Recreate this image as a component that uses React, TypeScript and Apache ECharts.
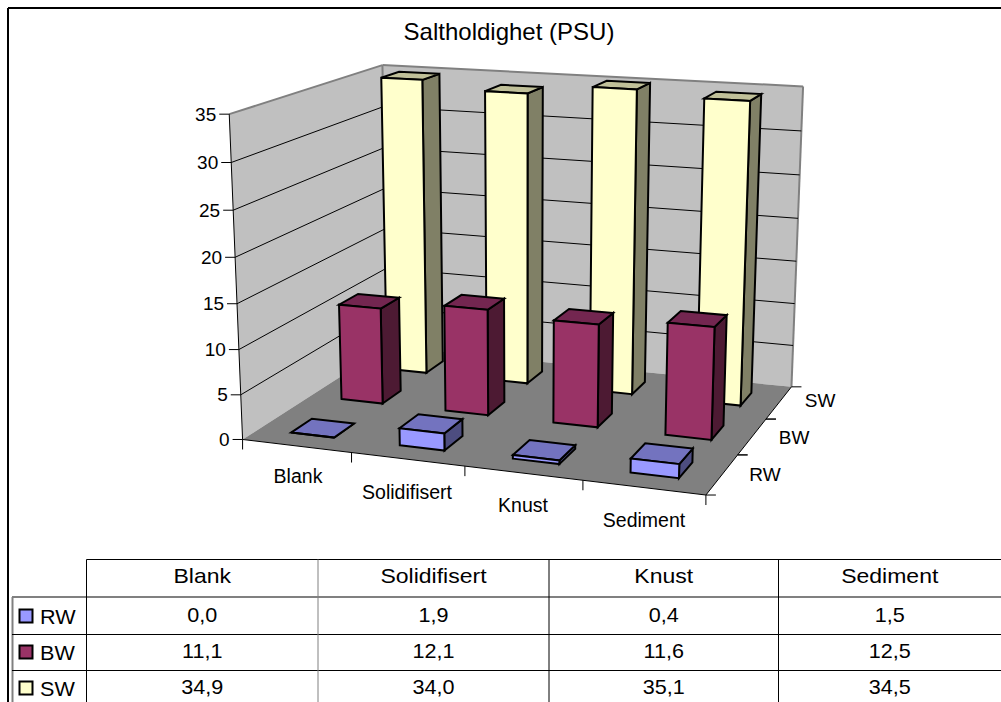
import React, { useEffect, useRef } from "react";
import * as echarts from "echarts";

const titleText = "Saltholdighet (PSU)";
const categories = ["Blank", "Solidifisert", "Knust", "Sediment"];
const seriesNames = ["RW", "BW", "SW"];
const RW = [0.0, 1.9, 0.4, 1.5];
const BW = [11.1, 12.1, 11.6, 12.5];
const SW = [34.9, 34.0, 35.1, 34.5];
const yTicks = [0, 5, 10, 15, 20, 25, 30, 35];
const FONT = '"Liberation Sans", Arial, sans-serif';

const palette = [
  { front: "#9999FF", top: "#7373BF", side: "#4D4D80" },
  { front: "#993366", top: "#732650", side: "#4D1A33" },
  { front: "#FFFFCC", top: "#C0C099", side: "#808066" },
];

// camera calibration of the 3D box: [x, y, z] -> [px, py]
const calib: [number, number, number, number, number][] = [
  [0, 0, 0, 243, 439],
  [1, 0, 0, 705.7, 495.7],
  [1, 0, 1, 791.7, 386],
  [0, 0, 1, 387.5, 347],
  [0, 1, 0, 229, 114],
  [1, 1, 1, 803, 86.7],
  [0, 1, 1, 382.7, 65],
];

function solveCamera() {
  const n = 11;
  const M: number[][] = Array.from({ length: n }, () => new Array(n + 1).fill(0));
  const add = (r: number[], t: number) => {
    for (let i = 0; i < n; i++) {
      for (let j = 0; j < n; j++) M[i][j] += r[i] * r[j];
      M[i][n] += r[i] * t;
    }
  };
  for (const [X, Y, Z, u, v] of calib) {
    add([X, Y, Z, 1, 0, 0, 0, 0, -u * X, -u * Y, -u * Z], u);
    add([0, 0, 0, 0, X, Y, Z, 1, -v * X, -v * Y, -v * Z], v);
  }
  for (let i = 0; i < n; i++) {
    let p = i;
    for (let r = i + 1; r < n; r++) if (Math.abs(M[r][i]) > Math.abs(M[p][i])) p = r;
    [M[i], M[p]] = [M[p], M[i]];
    for (let r = 0; r < n; r++) {
      if (r === i) continue;
      const f = M[r][i] / M[i][i];
      for (let c = i; c <= n; c++) M[r][c] -= f * M[i][c];
    }
  }
  return M.map((row, i) => row[n] / row[i]);
}
const cam = solveCamera();
const project = (x: number, y: number, z: number): [number, number] => {
  const w = cam[8] * x + cam[9] * y + cam[10] * z + 1;
  return [
    (cam[0] * x + cam[1] * y + cam[2] * z + cam[3]) / w,
    (cam[4] * x + cam[5] * y + cam[6] * z + cam[7]) / w,
  ];
};

const poly = (points: [number, number][], fill: string | null, stroke: string | null, lineWidth = 1) => ({
  type: "polygon",
  shape: { points },
  style: { fill: fill ?? "none", stroke: stroke ?? "none", lineWidth, lineJoin: "miter" },
});
const seg = (a: [number, number], b: [number, number], stroke: string, lineWidth = 1) => ({
  type: "line",
  shape: { x1: a[0], y1: a[1], x2: b[0], y2: b[1] },
  style: { stroke, lineWidth },
});
const label = (text: string, x: number, y: number, align: string, fontSize: number) => ({
  type: "text",
  x,
  y,
  style: { text, fontFamily: FONT, fontSize, fill: "#000", align, verticalAlign: "middle" },
});

const norm = (params: any, api: any) => {
  const cs = params.coordSys;
  const pt = api.coord([api.value(0), api.value(1)]);
  return {
    x: (pt[0] - cs.x) / cs.width,
    y: (cs.y + cs.height - pt[1]) / cs.height,
    band: api.size([1, 0])[0] / cs.width,
  };
};

const catLabelPos = [
  [298, 476],
  [407, 491.5],
  [523, 505],
  [644, 520],
];
const depthLabelPos = [
  [765, 474],
  [794, 437],
  [820, 400],
];

function buildOption() {
  const barSeries = [2, 1, 0].map((k) => ({
    type: "custom",
    name: seriesNames[k],
    coordinateSystem: "cartesian2d",
    clip: false,
    silent: true,
    z: 5 + (2 - k),
    data: [RW, BW, SW][k].map((v, i) => [i, v]),
    encode: { x: 0, y: 1 },
    renderItem: (params: any, api: any) => {
      const { x, y, band } = norm(params, api);
      const x0 = x - band * 0.2;
      const x1 = x + band * 0.2;
      const z0 = (k + 0.3) / 3;
      const z1 = (k + 0.7) / 3;
      const c = palette[k];
      const f00 = project(x0, 0, z0);
      const f10 = project(x1, 0, z0);
      const f11 = project(x1, 0, z1);
      const t00 = project(x0, y, z0);
      const t10 = project(x1, y, z0);
      const t11 = project(x1, y, z1);
      const t01 = project(x0, y, z1);
      return {
        type: "group",
        children: [
          poly([f10, f11, t11, t10], c.side, "#000", 2),
          poly([t00, t10, t11, t01], c.top, "#000", 2),
          poly([f00, f10, t10, t00], c.front, "#000", 2),
        ],
      };
    },
  }));

  return {
    animation: false,
    backgroundColor: "#fff",
    title: {
      text: titleText,
      left: 504,
      top: 14,
      textAlign: "center",
      textStyle: { fontFamily: FONT, fontSize: 24, fontWeight: "normal", color: "#000" },
    },
    grid: { left: 229, top: 114, width: 574, height: 325 },
    xAxis: { type: "category", data: categories, show: false, boundaryGap: true },
    yAxis: { type: "value", min: 0, max: 35, interval: 5, show: false },
    series: [
      {
        type: "custom",
        name: "walls",
        coordinateSystem: "cartesian2d",
        clip: false,
        silent: true,
        z: 1,
        data: [[0, 0]],
        renderItem: () => {
          const A = project(0, 0, 0), B = project(1, 0, 0), C = project(1, 0, 1), D = project(0, 0, 1);
          const At = project(0, 1, 0), Ct = project(1, 1, 1), Dt = project(0, 1, 1);
          return {
            type: "group",
            children: [
              poly([A, D, Dt, At], "#C0C0C0", null),
              poly([D, C, Ct, Dt], "#C0C0C0", null),
              poly([A, B, C, D], "#808080", null),
              seg(At, Dt, "#808080", 2),
              seg(Dt, Ct, "#808080", 2),
              seg(Ct, C, "#808080", 2),
              seg(Dt, D, "#808080", 2),
              seg(At, A, "#000", 1),
              seg(A, B, "#000", 1),
              seg(B, C, "#000", 1),
            ],
          };
        },
      },
      {
        type: "custom",
        name: "gridlines",
        coordinateSystem: "cartesian2d",
        clip: false,
        silent: true,
        z: 2,
        data: yTicks.map((t) => [0, t]),
        encode: { x: 0, y: 1 },
        renderItem: (params: any, api: any) => {
          const { y } = norm(params, api);
          const p = project(0, y, 0);
          const q = project(0, y, 1);
          const r = project(1, y, 1);
          const children: any[] = [
            seg([p[0] - 10, p[1]], p, "#000", 1),
            label(String(api.value(1)), p[0] - 13, p[1], "right", 19),
          ];
          if (api.value(1) > 0 && api.value(1) < 35) {
            children.push(seg(p, q, "#000", 1), seg(q, r, "#000", 1));
          }
          return { type: "group", children };
        },
      },
      {
        type: "custom",
        name: "categoryTicks",
        coordinateSystem: "cartesian2d",
        clip: false,
        silent: true,
        z: 3,
        data: categories.map((_, i) => [i, 0]),
        encode: { x: 0, y: 1 },
        renderItem: (params: any, api: any) => {
          const { x, band } = norm(params, api);
          const i = api.value(0);
          const children: any[] = [];
          const a = project(x - band / 2, 0, 0);
          children.push(seg(a, [a[0], a[1] + 10], "#000", 1));
          if (i === categories.length - 1) {
            const b = project(1, 0, 0);
            children.push(seg(b, [b[0], b[1] + 10], "#000", 1));
          }
          children.push(label(categories[i], catLabelPos[i][0], catLabelPos[i][1], "center", 19.5));
          return { type: "group", children };
        },
      },
      {
        type: "custom",
        name: "depthTicks",
        coordinateSystem: "cartesian2d",
        clip: false,
        silent: true,
        z: 3,
        data: seriesNames.map((_, k) => [0, k]),
        encode: { x: 0, y: 1 },
        renderItem: (params: any) => {
          const k = params.dataIndex;
          const a = project(1, 0, k / 3);
          const b = project(1, 0, (k + 1) / 3);
          return {
            type: "group",
            children: [
              seg(a, [a[0] + 10, a[1]], "#000", 1),
              seg(b, [b[0] + 10, b[1]], "#000", 1),
              label(seriesNames[k], depthLabelPos[k][0], depthLabelPos[k][1], "center", 19),
            ],
          };
        },
      },
      ...barSeries,
    ],
    graphic: buildTable(),
  };
}

const tableX = [86.5, 318, 549, 778.5, 1001];

function buildTable() {
  const els: any[] = [];
  const ln = (x1: number, y1: number, x2: number, y2: number, stroke = "#000", lineWidth = 1) =>
    els.push({ type: "line", shape: { x1, y1, x2, y2 }, style: { stroke, lineWidth } });
  ln(8, 8, 1001, 8, "#000", 2);
  ln(8, 8, 8, 702, "#000", 2);
  ln(12.5, 597, 12.5, 702, "#808080", 2);
  ln(86.5, 559.5, 1001, 559.5);
  ln(12, 597, 1001, 597, "#808080", 2);
  ln(12, 634.5, 1001, 634.5);
  ln(12, 670.5, 1001, 670.5);
  tableX.slice(0, 4).forEach((x, i) => ln(x, 559.5, x, 702, i === 1 ? "#808080" : "#000"));
  const txt = (text: string, x: number, y: number, align: string, sx: number) =>
    els.push({
      type: "text",
      x,
      y,
      scaleX: sx,
      style: { text, fontFamily: FONT, fontSize: 20, fill: "#000", align, verticalAlign: "middle" },
    });
  categories.forEach((c, i) => txt(c, (tableX[i] + tableX[i + 1]) / 2, 576, "center", 1.15));
  [RW, BW, SW].forEach((vals, k) => {
    const cy = [616, 652, 688][k];
    els.push({
      type: "rect",
      shape: { x: 19.5, y: cy - 6.5, width: 13, height: 13 },
      style: { fill: palette[k].front, stroke: "#000", lineWidth: 2 },
    });
    txt(seriesNames[k], 40, cy + 1, "left", 1.08);
    vals.forEach((v, i) => txt(v.toFixed(1).replace(".", ","), (tableX[i] + tableX[i + 1]) / 2, cy - 1, "center", 1.08));
  });
  return els;
}

export default function App() {
  const ref = useRef<HTMLDivElement>(null);
  useEffect(() => {
    const chart = echarts.init(ref.current!, undefined, { renderer: "svg" });
    chart.setOption(buildOption() as any);
    return () => chart.dispose();
  }, []);
  return <div ref={ref} style={{ position: "fixed", left: 0, top: 0, width: 1001, height: 702 }} />;
}
